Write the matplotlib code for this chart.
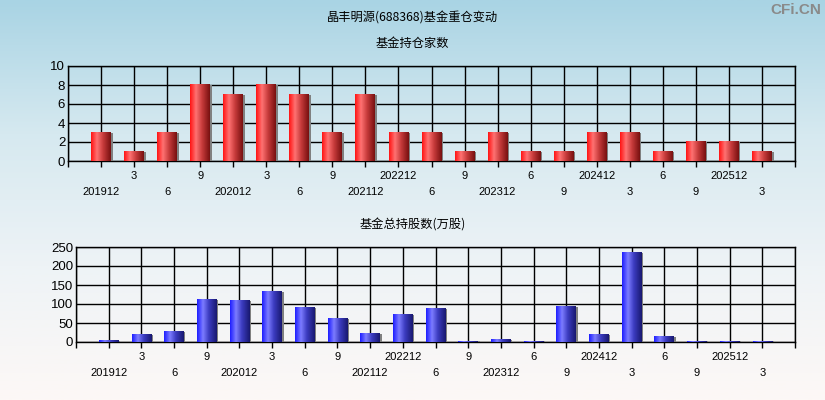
import numpy as np
import matplotlib.pyplot as plt
from matplotlib.colors import LinearSegmentedColormap

# 数据
labels = ['201912', '3', '6', '9', '202012', '3', '6', '9', '202112', '202212', '6',
          '9', '202312', '6', '9', '202412', '3', '6', '9', '202512', '3']
jiashu = [3, 1, 3, 8, 7, 8, 7, 3, 7, 3, 3, 1, 3, 1, 1, 3, 3, 1, 2, 2, 1]
chigu = [3, 19, 27, 111, 109, 132, 90, 61, 22, 72, 88, 2, 6, 2, 93, 19, 235, 14, 2, 2, 2]

cjk = ['Noto Sans CJK SC', 'DejaVu Sans']
plt.rcParams['font.family'] = ['Liberation Sans', 'DejaVu Sans']

fig = plt.figure(figsize=(8.25, 4), dpi=100)

# 背景渐变
bg = fig.add_axes([0, 0, 1, 1], zorder=-10)
bg_cmap = LinearSegmentedColormap.from_list('bg', ['#a9d4e4', '#d6e9f0', '#eef3f6', '#fdf8f6'])
bg.imshow(np.linspace(0, 1, 256).reshape(-1, 1), aspect='auto', cmap=bg_cmap, extent=[0, 1, 0, 1])
bg.axis('off')

red_cmap = LinearSegmentedColormap.from_list('r', [(0, '#ff1414'), (0.3, '#ff7272'), (0.6, '#c83c3c'), (1, '#781010')])
blue_cmap = LinearSegmentedColormap.from_list('b', [(0, '#1e1eff'), (0.3, '#7c7cff'), (0.6, '#3c3cc0'), (1, '#181870')])
grad = np.linspace(0, 1, 64).reshape(1, -1)


def draw(ax, vals, cmap, ymax, ystep):
    x = np.arange(1, len(vals) + 1)
    w = 0.6
    for xi, v in zip(x, vals):
        # 阴影在右侧
        ax.bar(xi + w / 2 + 0.01, v, width=0.08, color='#808080', linewidth=0, zorder=2.9)
        ax.imshow(grad, cmap=cmap, aspect='auto', extent=[xi - w / 2, xi + w / 2, 0, v], zorder=3)
    ax.set_xlim(0, len(vals) + 1)
    ax.set_ylim(0, ymax)
    ax.set_xticks(np.arange(0, len(vals) + 2))
    ax.set_xticklabels([])
    ax.set_yticks(np.arange(0, ymax + 1, ystep))
    ax.tick_params(axis='x', direction='out', length=4, width=1, colors='black')
    ax.tick_params(axis='y', length=0, labelsize=9.5, pad=2)
    ax.grid(True, color='black', linewidth=1)
    ax.set_axisbelow(True)
    ax.patch.set_alpha(0)
    for s in ax.spines.values():
        s.set_linewidth(1)
    for i, lab in enumerate(labels):
        yy = -0.16 if i % 2 == 1 else -0.325
        ax.text(x[i], yy, lab, transform=ax.get_xaxis_transform(), ha='center', va='center', fontsize=8)


ax1 = fig.add_axes([68 / 825, 1 - 161 / 400, 727 / 825, 95 / 400])
draw(ax1, jiashu, red_cmap, 10, 2)
ax2 = fig.add_axes([76 / 825, 1 - 342 / 400, 719 / 825, 95 / 400])
draw(ax2, chigu, blue_cmap, 250, 50)

fig.text(0.5, 1 - 18 / 400, '晶丰明源(688368)基金重仓变动', ha='center', va='center', fontsize=8.8, family=cjk)
fig.text(0.5, 1 - 43 / 400, '基金持仓家数', ha='center', va='center', fontsize=8.8, family=cjk)
fig.text(0.5, 1 - 225 / 400, '基金总持股数(万股)', ha='center', va='center', fontsize=8.8, family=cjk)
fig.text(1 - 4 / 825, 1 - 10 / 400, 'CFi.CN', ha='right', va='center', fontsize=11, color='#8a8a8a', fontweight='bold')

fig.savefig('out.png', dpi=100)
